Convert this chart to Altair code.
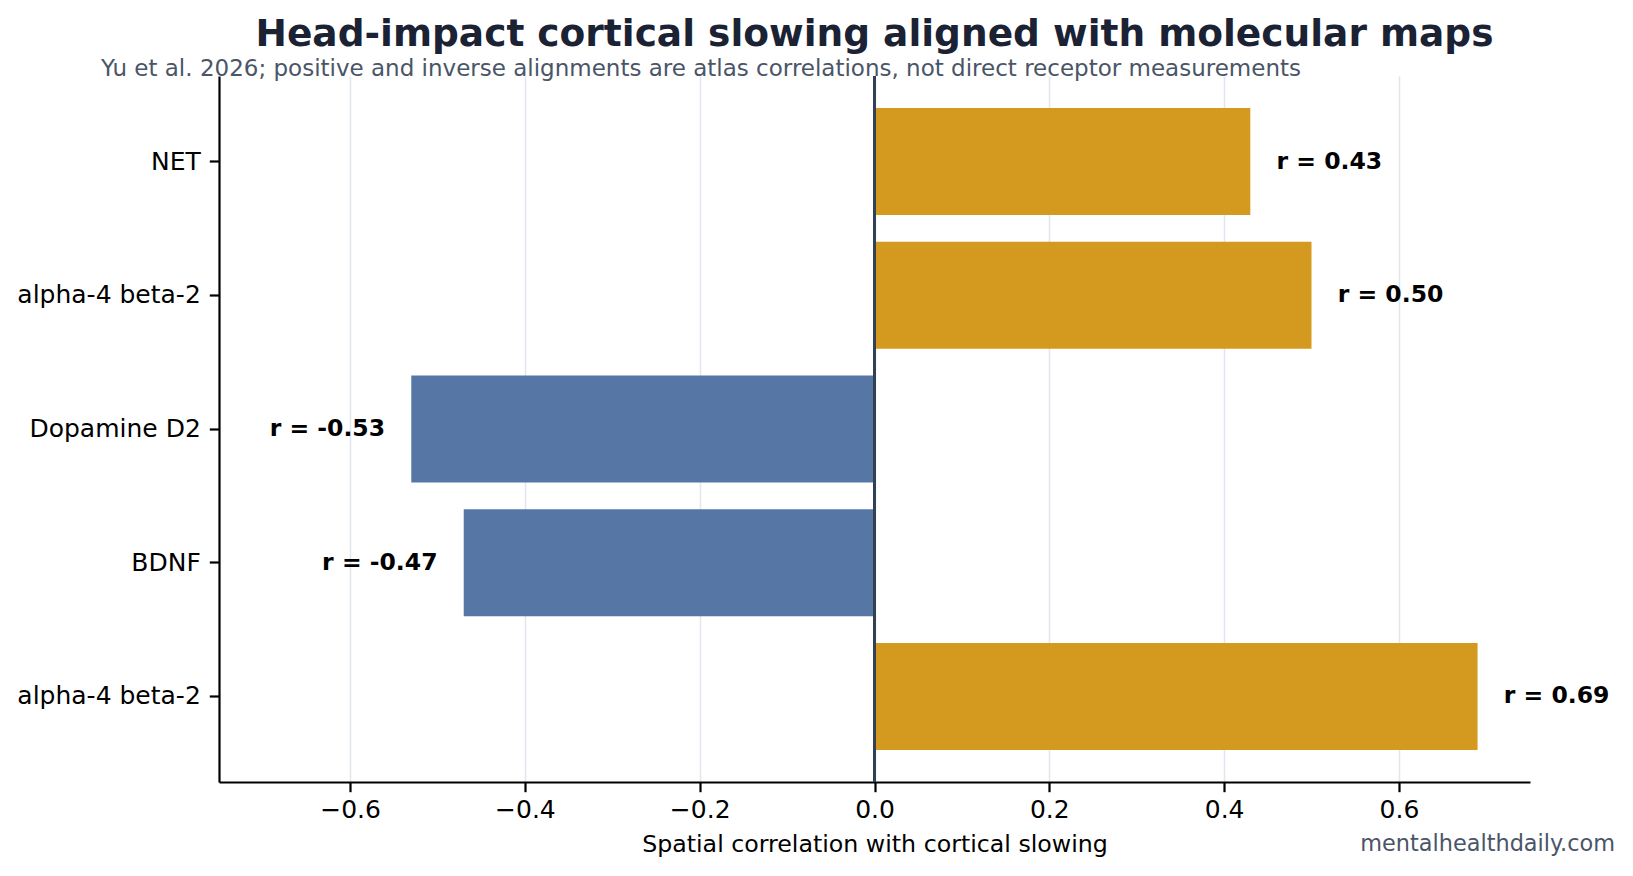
import altair as alt
import pandas as pd

# Molecular maps and their spatial correlation with cortical slowing
receptors = ["NET", "alpha-4 beta-2", "Dopamine D2", "BDNF", "alpha-4 beta-2"]
r_values = [0.43, 0.50, -0.53, -0.47, 0.69]
x_ticks = [-0.6, -0.4, -0.2, 0.0, 0.2, 0.4, 0.6]

title_text = "Head-impact cortical slowing aligned with molecular maps"
subtitle_text = ("Yu et al. 2026; positive and inverse alignments are atlas correlations, "
                 "not direct receptor measurements")
source_text = "mentalhealthdaily.com"

FONT = "DejaVu Sans"
GOLD = "#D4991F"
BLUE = "#5676A6"

df = pd.DataFrame({
    "slot": list(range(len(receptors))),
    "receptor": receptors,
    "r": r_values,
    "label": [f"r = {v:.2f}" for v in r_values],
})

# Slots keep the two "alpha-4 beta-2" rows apart; the axis shows the receptor name
label_expr = "[" + ",".join(f"'{n}'" for n in receptors) + "][datum.value]"

y_scale = alt.Scale(paddingInner=0.2, paddingOuter=0.24)
y_axis = alt.Axis(
    title=None, labelExpr=label_expr, labelFont=FONT, labelFontSize=25,
    labelColor="#000000", labelLimit=0, tickSize=9.7, tickWidth=2.2,
    tickColor="#000000", domainColor="#000000", domainWidth=2.2,
    labelPadding=9, grid=False,
)
x_scale = alt.Scale(domain=[-0.75, 0.75], nice=False)
x_axis = alt.Axis(
    values=x_ticks, format=".1f", title="Spatial correlation with cortical slowing",
    titleFont=FONT, titleFontSize=23.7, titleFontWeight="normal", titleColor="#000000",
    titlePadding=10, labelFont=FONT, labelFontSize=25, labelColor="#000000",
    labelPadding=6, tickSize=9.7, tickWidth=2.2, tickColor="#000000",
    domainColor="#000000", domainWidth=2.2, grid=True, gridColor="#e2e6ef",
    gridWidth=1.6,
)

base = alt.Chart(df)

bars = base.mark_bar().encode(
    x=alt.X("r:Q", scale=x_scale, axis=x_axis),
    y=alt.Y("slot:O", scale=y_scale, axis=y_axis),
    color=alt.condition("datum.r > 0", alt.value(GOLD), alt.value(BLUE)),
)

label_style = dict(baseline="middle", font=FONT, fontSize=23.5,
                   fontWeight="bold", color="#000000")

pos_labels = base.transform_filter("datum.r > 0").transform_calculate(
    pos="datum.r + 0.03"
).mark_text(align="left", **label_style).encode(
    x=alt.X("pos:Q", scale=x_scale, axis=x_axis),
    y=alt.Y("slot:O", scale=y_scale, axis=y_axis),
    text="label:N",
)

neg_labels = base.transform_filter("datum.r < 0").transform_calculate(
    pos="datum.r - 0.03"
).mark_text(align="right", **label_style).encode(
    x=alt.X("pos:Q", scale=x_scale, axis=x_axis),
    y=alt.Y("slot:O", scale=y_scale, axis=y_axis),
    text="label:N",
)

zero_line = alt.Chart(df).mark_rule(color="#334155", strokeWidth=2.7).encode(
    x=alt.datum(0, scale=x_scale, axis=x_axis),
)

subtitle = alt.Chart(pd.DataFrame({"t": [subtitle_text]})).mark_text(
    align="left", baseline="middle", font=FONT, fontSize=23, color="#4a5568",
).encode(x=alt.value(-118), y=alt.value(-7), text="t:N")

source = alt.Chart(pd.DataFrame({"t": [source_text]})).mark_text(
    align="right", baseline="middle", font=FONT, fontSize=22.4, color="#4a5568",
).encode(x=alt.value(1396), y=alt.value(768), text="t:N")

chart = alt.layer(bars, zero_line, pos_labels, neg_labels, subtitle, source).properties(
    width=1311,
    height=706,
    title=alt.TitleParams(
        title_text, anchor="middle", frame="group", font=FONT, fontSize=37.5,
        fontWeight="bold", color="#1a2234", offset=5,
    ),
    autosize=alt.AutoSizeParams(type="none"),
    padding={"left": 219, "top": 76, "right": 103, "bottom": 94},
).configure(background="white").configure_view(stroke=None)

chart.save("out.html", embed_options={"renderer": "svg", "actions": False})
